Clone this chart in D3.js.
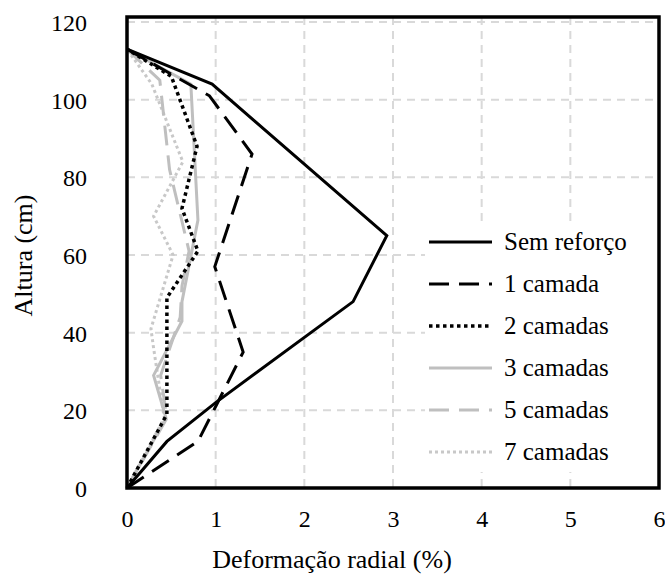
<!DOCTYPE html>
<html>
<head>
<meta charset="utf-8">
<script src="https://cdn.jsdelivr.net/npm/d3@7"></script>
<style>
  body { margin: 0; background: #fff; }
</style>
</head>
<body>
<div id="chart"></div>
<script>
// x = deformação radial (%), y = altura (cm)
const semReforcoX = [0, 0.45, 1.0, 2.55, 2.93, 0.96, 0];
const semReforcoY = [0, 12, 22, 48, 65, 104, 113];
const camada1X = [0, 0.8, 1.0, 1.31, 0.99, 1.41, 0.93, 0];
const camada1Y = [0, 12, 21, 35, 57, 86, 101, 113];
const camadas2X = [0, 0.45, 0.45, 0.8, 0.62, 0.79, 0.5, 0];
const camadas2Y = [0, 19, 49, 61, 72, 88, 106, 113];
const camadas3X = [0, 0.44, 0.3, 0.62, 0.62, 0.8, 0.72, 0];
const camadas3Y = [0, 18, 29, 43, 48, 69, 104, 113];
const camadas5X = [0, 0.45, 0.38, 0.6, 0.62, 0.7, 0.48, 0.37, 0];
const camadas5Y = [0, 18, 29, 44, 52, 61, 82, 105, 113];
const camadas7X = [0, 0.42, 0.3, 0.27, 0.52, 0.3, 0.63, 0.28, 0];
const camadas7Y = [0, 18, 36, 41, 60, 70, 84, 104, 113];

const seriesNames = ["Sem reforço", "1 camada", "2 camadas", "3 camadas", "5 camadas", "7 camadas"];
const xTicks = [0, 1, 2, 3, 4, 5, 6];
const yTicks = [0, 20, 40, 60, 80, 100, 120];

const W = 665, H = 579;
const plot = { left: 127, right: 659, top: 17, bottom: 488 };

// pick a serif face that is really installed (compare widths against monospace)
function pickFont(cands, fallback) {
    const ctx = document.createElement("canvas").getContext("2d");
    const probe = "Deformação radial 0123 mmmWWiil";
    ctx.font = "40px monospace";
    const base = ctx.measureText(probe).width;
    for (const f of cands) {
        ctx.font = `40px '${f}', monospace`;
        if (Math.abs(ctx.measureText(probe).width - base) > 0.5) return `'${f}'`;
    }
    return fallback;
}
const serif = pickFont(["Liberation Serif", "Tinos", "Times New Roman", "DejaVu Serif", "Noto Serif", "FreeSerif"], "serif");
const fs = 24;

const svg = d3.select("#chart").append("svg")
    .attr("width", W)
    .attr("height", H)
    .style("font-family", serif);

const x = d3.scaleLinear().domain([0, 6]).range([plot.left, plot.right]);
const y = d3.scaleLinear().domain([0, 120]).range([plot.bottom, 22]);

// styles per series, same order as seriesNames
const styles = [
    { color: "#000", width: 3, dash: null },
    { color: "#000", width: 3, dash: "20,10" },
    { color: "#000", width: 3.5, dash: "3.5,3.5" },
    { color: "#bfbfbf", width: 3, dash: null },
    { color: "#bfbfbf", width: 3, dash: "20,10" },
    { color: "#c8c8c8", width: 3, dash: "3,3" }
];
const xs = [semReforcoX, camada1X, camadas2X, camadas3X, camadas5X, camadas7X];
const ys = [semReforcoY, camada1Y, camadas2Y, camadas3Y, camadas5Y, camadas7Y];

// grid
const grid = svg.append("g").attr("class", "grid");
grid.selectAll(".vgrid")
    .data(xTicks.slice(1, -1))
    .join("line")
    .attr("x1", d => x(d)).attr("x2", d => x(d))
    .attr("y1", plot.top).attr("y2", plot.bottom)
    .attr("stroke", "#d9d9d9").attr("stroke-width", 2)
    .attr("stroke-dasharray", "8,6");
grid.selectAll(".hgrid")
    .data(yTicks.slice(1))
    .join("line")
    .attr("x1", plot.left).attr("x2", plot.right)
    .attr("y1", d => y(d)).attr("y2", d => y(d))
    .attr("stroke", "#d9d9d9").attr("stroke-width", 2)
    .attr("stroke-dasharray", "8,6");

// series lines, grey ones underneath
const line = d3.line().x(d => x(d[0])).y(d => y(d[1]));
const drawOrder = [5, 4, 3, 2, 1, 0];
drawOrder.forEach(i => {
    const pts = xs[i].map((v, k) => [v, ys[i][k]]);
    svg.append("path")
        .datum(pts)
        .attr("d", line)
        .attr("fill", "none")
        .attr("stroke", styles[i].color)
        .attr("stroke-width", styles[i].width)
        .attr("stroke-dasharray", styles[i].dash)
        .attr("stroke-linejoin", "miter");
});

// frame
svg.append("rect")
    .attr("x", plot.left).attr("y", plot.top)
    .attr("width", plot.right - plot.left)
    .attr("height", plot.bottom - plot.top)
    .attr("fill", "none")
    .attr("stroke", "#000")
    .attr("stroke-width", 3.5);

// axes
const xAxis = svg.append("g")
    .attr("transform", `translate(0,${plot.bottom + 22})`)
    .call(d3.axisBottom(x).tickValues(xTicks).tickFormat(d3.format("d")).tickSize(0).tickPadding(0));
const yAxis = svg.append("g")
    .attr("transform", `translate(${plot.left - 40},0)`)
    .call(d3.axisLeft(y).tickValues(yTicks).tickFormat(d3.format("d")).tickSize(0).tickPadding(0));
[xAxis, yAxis].forEach(a => {
    a.attr("font-family", null).attr("font-size", fs);
    a.select(".domain").remove();
    a.selectAll("text").attr("fill", "#000");
});
xAxis.selectAll("text").attr("dy", "0.71em");
yAxis.selectAll("text").attr("dy", "0.35em");

// axis titles (x title sits left of the plot centre, as in the original)
svg.append("text")
    .attr("x", 332)
    .attr("y", 568)
    .attr("text-anchor", "middle")
    .attr("font-size", 26)
    .text("Deformação radial (%)");
svg.append("text")
    .attr("transform", `translate(32,${(plot.top + plot.bottom) / 2 + 3}) rotate(-90)`)
    .attr("text-anchor", "middle")
    .attr("font-size", 26)
    .text("Altura (cm)");

// legend
const legend = svg.append("g").attr("transform", "translate(425,222)");
legend.append("rect")
    .attr("x", 0).attr("y", 0)
    .attr("width", 232).attr("height", 250)
    .attr("fill", "#fff");
const rowH = 42;
seriesNames.forEach((name, i) => {
    const cy = 20 + i * rowH;
    legend.append("line")
        .attr("x1", 4).attr("x2", 67)
        .attr("y1", cy).attr("y2", cy)
        .attr("stroke", styles[i].color)
        .attr("stroke-width", styles[i].width)
        .attr("stroke-dasharray", styles[i].dash);
    legend.append("text")
        .attr("x", 79).attr("y", cy)
        .attr("dy", "0.33em")
        .attr("font-size", 25)
        .text(name);
});
</script>
</body>
</html>
